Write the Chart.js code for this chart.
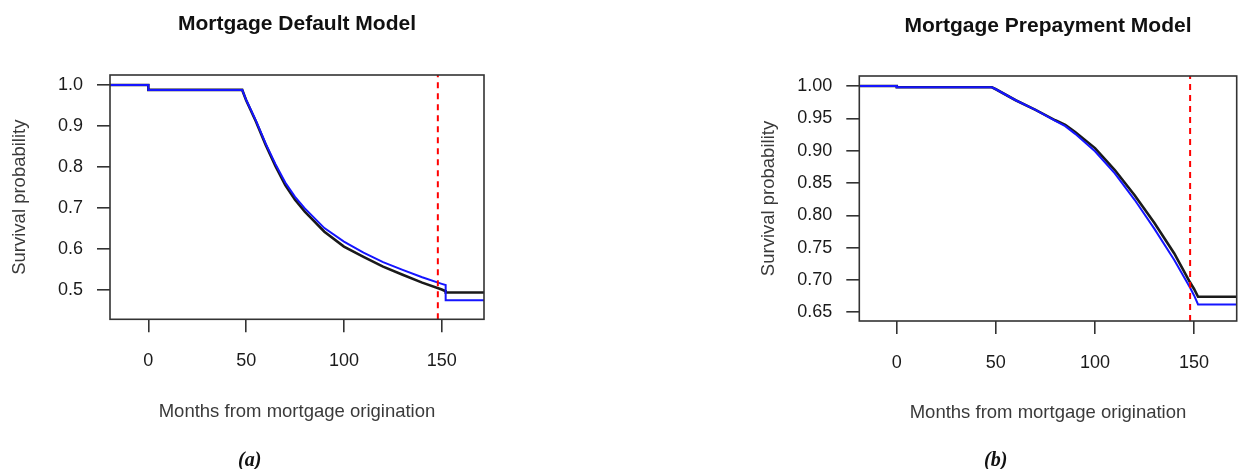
<!DOCTYPE html>
<html>
<head>
<meta charset="utf-8">
<title>Mortgage survival models</title>
<script src="https://cdn.jsdelivr.net/npm/chart.js@4.4.1/dist/chart.umd.min.js"></script>
<style>
  body { margin: 0; background: #fff; }
  #wrap { position: relative; width: 1238px; height: 469px; overflow: hidden; }
  canvas { position: absolute; top: 0; }
  #chart-a { left: 0; }
  #chart-b { left: 619px; }
  .caption {
    position: absolute;
    top: 448px;
    line-height: 24px;
    font: italic bold 20px "Liberation Serif", "DejaVu Serif", serif;
    color: #111;
  }
</style>
</head>
<body>
<div id="wrap">
  <canvas id="chart-a" width="619" height="469"></canvas>
  <canvas id="chart-b" width="619" height="469"></canvas>
  <div class="caption" style="left:238px">(a)</div>
  <div class="caption" style="left:984px">(b)</div>
</div>
<script>
// month of the red dashed cut-off line
const cutoffMonth = 148;
const xTicks = [0, 50, 100, 150];

// (a) default model
const defaultMonths = [-20, 0, 0, 48, 50, 55, 60, 65, 70, 75, 80, 90, 100, 110, 120, 130, 140, 150, 152, 152, 172];
const defaultBlack = [1.0, 1.0, 0.988, 0.988, 0.963, 0.911, 0.854, 0.802, 0.756, 0.72, 0.691, 0.642, 0.606, 0.581, 0.557, 0.537, 0.518, 0.501, 0.497, 0.494, 0.494];
const defaultBlue = [1.0, 1.0, 0.988, 0.988, 0.964, 0.913, 0.857, 0.807, 0.762, 0.727, 0.699, 0.651, 0.618, 0.591, 0.568, 0.549, 0.531, 0.515, 0.512, 0.475, 0.475];
const defaultYTicks = [0.5, 0.6, 0.7, 0.8, 0.9, 1.0];

// (b) prepayment model
const prepayMonths = [-20, 0, 0, 48, 50, 60, 70, 80, 85, 90, 100, 110, 120, 130, 140, 148, 150, 152, 172];
const prepayBlack = [1.0, 1.0, 0.998, 0.998, 0.995, 0.978, 0.963, 0.947, 0.940, 0.929, 0.904, 0.870, 0.831, 0.788, 0.741, 0.696, 0.686, 0.674, 0.674];
const prepayBlue = [1.0, 1.0, 0.998, 0.998, 0.995, 0.978, 0.963, 0.946, 0.938, 0.926, 0.899, 0.865, 0.824, 0.779, 0.731, 0.688, 0.676, 0.662, 0.662];
const prepayYTicks = [0.65, 0.70, 0.75, 0.80, 0.85, 0.90, 0.95, 1.00];

const FONT = '"Liberation Sans", Arial, Helvetica, sans-serif';
const AXIS_COLOR = "#333";

// R style box round the plot region
const framePlugin = {
  id: "frame",
  afterDraw(chart) {
    const { ctx, chartArea: a } = chart;
    ctx.save();
    ctx.strokeStyle = AXIS_COLOR;
    ctx.lineWidth = 1.6;
    ctx.strokeRect(a.left, a.top, a.right - a.left, a.bottom - a.top);
    ctx.restore();
  }
};

function toPoints(months, values) {
  return months.map((m, i) => ({ x: m, y: values[i] }));
}

function makeChart(canvas, p) {
  return new Chart(canvas, {
    type: "line",
    data: {
      datasets: [
        {
          label: "cutoff",
          data: [{ x: cutoffMonth, y: p.yMin }, { x: cutoffMonth, y: p.yMax }],
          borderColor: "#ff0000",
          borderWidth: 2,
          borderDash: [6, 5]
        },
        {
          label: "blue",
          data: toPoints(p.months, p.blue),
          borderColor: "#1515ff",
          borderWidth: 2
        },
        {
          label: "black",
          data: toPoints(p.months, p.black),
          borderColor: "#1a1a1a",
          borderWidth: 2.6
        }
      ]
    },
    options: {
      responsive: false,
      animation: false,
      elements: { point: { radius: 0 }, line: { tension: 0 } },
      layout: { padding: { left: p.padLeft, right: p.padRight, top: 0, bottom: 0 } },
      plugins: {
        legend: { display: false },
        tooltip: { enabled: false },
        title: {
          display: true,
          text: p.title,
          fullSize: false,
          color: "#111",
          font: { family: FONT, size: 21, weight: "bold" },
          padding: { top: p.titleTop, bottom: p.titleBottom }
        }
      },
      scales: {
        x: {
          type: "linear",
          min: p.xMin,
          max: p.xMax,
          afterBuildTicks: (scale) => {
            scale.ticks = xTicks.map((v) => ({ value: v }));
          },
          afterFit: (scale) => {
            scale.height = p.xHeight;
          },
          ticks: {
            color: "#1a1a1a",
            padding: 18,
            font: { family: FONT, size: 18 },
            callback: (v) => String(v)
          },
          grid: { drawOnChartArea: false, drawTicks: true, tickLength: 13, color: AXIS_COLOR, lineWidth: 1.6 },
          border: { display: false },
          title: {
            display: true,
            text: "Months from mortgage origination",
            color: "#3a3a3a",
            font: { family: FONT, size: 18.5 },
            padding: { top: 0, bottom: p.xTitlePad }
          }
        },
        y: {
          type: "linear",
          min: p.yMin,
          max: p.yMax,
          afterBuildTicks: (scale) => {
            scale.ticks = p.yTicks.map((v) => ({ value: v }));
          },
          afterFit: (scale) => {
            scale.width = p.yWidth;
          },
          ticks: {
            color: "#1a1a1a",
            padding: 14,
            font: { family: FONT, size: 18 },
            callback: (v) => Number(v).toFixed(p.decimals)
          },
          grid: { drawOnChartArea: false, drawTicks: true, tickLength: 13, color: AXIS_COLOR, lineWidth: 1.6 },
          border: { display: false },
          title: {
            display: true,
            text: "Survival probability",
            color: "#3a3a3a",
            font: { family: FONT, size: 18.5 },
            padding: { top: p.yTitlePad, bottom: 0 }
          }
        }
      }
    },
    plugins: [framePlugin]
  });
}

makeChart(document.getElementById("chart-a"), {
  title: "Mortgage Default Model",
  months: defaultMonths,
  black: defaultBlack,
  blue: defaultBlue,
  yTicks: defaultYTicks,
  decimals: 1,
  xMin: -19.6,
  xMax: 171.6,
  yMin: 0.4285,
  yMax: 1.0244,
  padLeft: 0,
  padRight: 135,
  yWidth: 110,
  yTitlePad: 9,
  titleTop: 12,
  titleBottom: 37.8,
  xHeight: 149.7,
  xTitlePad: 46
});

makeChart(document.getElementById("chart-b"), {
  title: "Mortgage Prepayment Model",
  months: prepayMonths,
  black: prepayBlack,
  blue: prepayBlue,
  yTicks: prepayYTicks,
  decimals: 2,
  xMin: -18.9,
  xMax: 171.5,
  yMin: 0.6365,
  yMax: 1.0155,
  padLeft: 129,
  padRight: 1.3,
  yWidth: 111.3,
  yTitlePad: 10,
  titleTop: 13.4,
  titleBottom: 37.4,
  xHeight: 148,
  xTitlePad: 45
});
</script>
</body>
</html>
